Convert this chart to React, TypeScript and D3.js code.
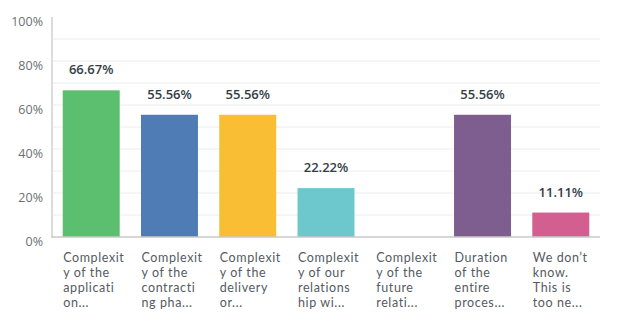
import React from "react";
import * as d3 from "d3";

const categories = [
  ["Complexit", "y of the", "applicati", "on..."],
  ["Complexit", "y of the", "contracti", "ng pha..."],
  ["Complexit", "y of the", "delivery", "or..."],
  ["Complexit", "y of our", "relations", "hip wi..."],
  ["Complexit", "y of the", "future", "relati..."],
  ["Duration", "of the", "entire", "proces..."],
  ["We don\u2019t", "know.", "This is", "too ne..."],
];
const values = [66.67, 55.56, 55.56, 22.22, 0, 55.56, 11.11];
const colors = ["#5bbf6f", "#507cb6", "#f9be34", "#6cc8cd", "#d1d1d1", "#7d5e8f", "#d25f90"];
const yTicks = [0, 20, 40, 60, 80, 100];
const gridTicks = [10, 20, 30, 40, 50, 60, 70, 80, 90];

export default function App() {
  const W = 633, H = 330;
  const left = 52, right = 600, top = 17, bottom = 237;
  const x = d3.scaleBand<number>().domain(d3.range(values.length)).range([left, right]).paddingInner(0.272).paddingOuter(0.137);
  const y = d3.scaleLinear().domain([0, 100]).range([bottom, top]);
  const font = "'Open Sans', 'DejaVu Sans', sans-serif";
  return (
    <svg width={W} height={H} style={{ position: "absolute", left: 0, top: 0 }} fontFamily={font}>
      <rect width={W} height={H} fill="#fff" />
      {gridTicks.map((t) => (
        <line key={t} x1={left} x2={right} y1={y(t)} y2={y(t)} stroke="#ececec" strokeWidth={1} />
      ))}
      <line x1={left} x2={left} y1={top} y2={bottom} stroke="#dcdcdc" strokeWidth={2} />
      {yTicks.map((t) => (
        <text key={t} x={43} y={y(t) + 5} dy="0.35em" textAnchor="end" fontSize={12.5} fill="#6b6f73">
          {t}%
        </text>
      ))}
      {values.map((v, i) => (
        <g key={i}>
          {v > 0 && (
            <rect x={x(i)} y={y(v)} width={x.bandwidth()} height={bottom - y(v)} fill={colors[i]} />
          )}
          {v > 0 && (
            <text x={x(i)! + x.bandwidth() / 2} y={y(v) - 16} textAnchor="middle" fontSize={13} fontWeight={600} fill="#333e48">
              {v.toFixed(2)}%
            </text>
          )}
          {categories[i].map((line, j) => (
            <text key={j} x={x(i)! + 0.5} y={257.5 + j * 15} dy="0.35em" fontSize={12.5} letterSpacing={0.6} fill="#545b62" fontFamily="Lato, 'Open Sans', sans-serif">
              {line}
            </text>
          ))}
        </g>
      ))}
      <line x1={left - 1} x2={right} y1={bottom} y2={bottom} stroke="#c8c8c8" strokeWidth={1.5} />
    </svg>
  );
}
